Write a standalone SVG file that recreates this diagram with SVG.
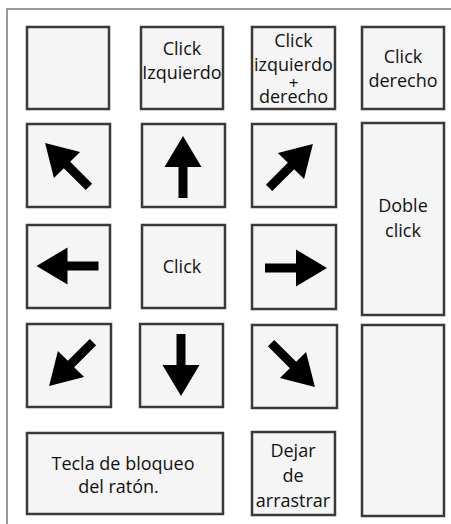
<svg xmlns="http://www.w3.org/2000/svg" xmlns:xlink="http://www.w3.org/1999/xlink" width="451" height="524" viewBox="0 0 451 524">
<style>
.k{fill:#f5f5f5;stroke:#3a3a3a;stroke-width:2.5}
.t{font-family:"Open Sans","Noto Sans",sans-serif;font-size:18px;fill:#111;text-anchor:middle}
.p{font-size:17px}
.a{fill:#000}
.fr{stroke:#7a7a7a;stroke-width:1.5;fill:none}
</style>
<defs>
<path id="arr" d="M0,-31 L18.5,0 L4.5,0 L4.5,31 L-4.5,31 L-4.5,0 L-18.5,0 Z"/>
</defs>
<rect width="451" height="524" fill="#fff"/>
<path class="fr" d="M7,524 V9 H451"/>
<g id="n-blank"><rect class="k" x="27" y="27" width="82" height="82"/></g>
<g id="n-click-izq"><rect class="k" x="141" y="27" width="82" height="82"/>
<text class="t" x="182" y="55">Click</text><text class="t" x="182" y="79">Izquierdo</text></g>
<g id="n-click-izq-der"><rect class="k" x="252" y="27" width="83" height="82"/>
<text class="t" x="293.5" y="47">Click</text><text class="t" x="293.5" y="71">izquierdo</text><text class="t p" x="293.5" y="89">+</text><text class="t" x="293.5" y="103">derecho</text></g>
<g id="n-click-der"><rect class="k" x="362" y="27" width="82" height="82"/>
<text class="t" x="403" y="63">Click</text><text class="t" x="403" y="87">derecho</text></g>
<g id="n-upleft"><rect class="k" x="27" y="124" width="83" height="83"/>
<use href="#arr" class="a" transform="translate(67,165) rotate(-45)"/></g>
<g id="n-up"><rect class="k" x="142" y="124" width="83" height="83"/>
<use href="#arr" class="a" transform="translate(183,167)"/></g>
<g id="n-upright"><rect class="k" x="252" y="124" width="84" height="83"/>
<use href="#arr" class="a" transform="translate(291,166) rotate(45)"/></g>
<g id="n-doble"><rect class="k" x="362" y="123" width="82" height="192"/>
<text class="t" x="403" y="212">Doble</text><text class="t" x="403" y="237">click</text></g>
<g id="n-left"><rect class="k" x="27" y="225" width="83" height="83"/>
<use href="#arr" class="a" transform="translate(67.5,266) rotate(-90)"/></g>
<g id="n-click"><rect class="k" x="142" y="225" width="83" height="83"/>
<text class="t" x="182" y="273">Click</text></g>
<g id="n-right"><rect class="k" x="252" y="225" width="84" height="84"/>
<use href="#arr" class="a" transform="translate(296,268) rotate(90)"/></g>
<g id="n-downleft"><rect class="k" x="27" y="324" width="84" height="83"/>
<use href="#arr" class="a" transform="translate(71,364) rotate(-135)"/></g>
<g id="n-down"><rect class="k" x="140" y="324" width="83" height="83"/>
<use href="#arr" class="a" transform="translate(181,365) rotate(180)"/></g>
<g id="n-downright"><rect class="k" x="252" y="325" width="85" height="83"/>
<use href="#arr" class="a" transform="translate(293,365) rotate(135)"/></g>
<g id="n-blank2"><rect class="k" x="362" y="325" width="82" height="191"/></g>
<g id="n-tecla"><rect class="k" x="27" y="433" width="196" height="81"/>
<text class="t" x="123" y="470">Tecla de bloqueo</text><text class="t" x="118.5" y="493">del ratón.</text></g>
<g id="n-dejar"><rect class="k" x="252" y="432" width="83" height="83"/>
<text class="t" x="293" y="457">Dejar</text><text class="t" x="293" y="482">de</text><text class="t" x="293" y="507">arrastrar</text></g>
<g id="connectors"></g>
</svg>
